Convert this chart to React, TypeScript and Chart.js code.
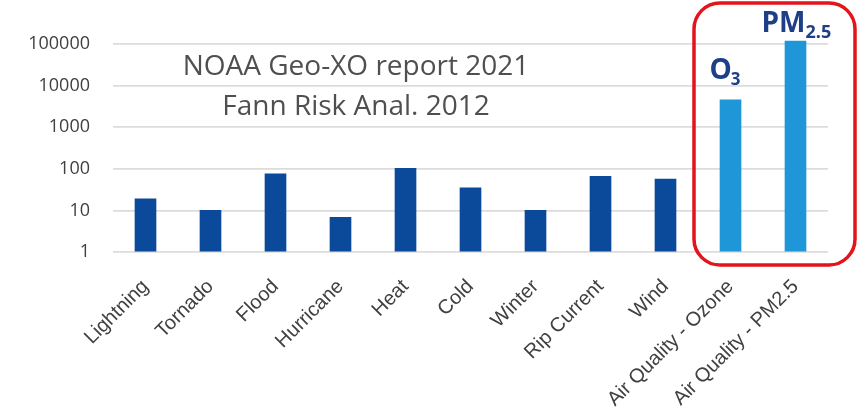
import React, { useEffect, useRef } from "react";
import { Chart, registerables } from "chart.js";

Chart.register(...registerables);

const categories = [
  "Lightning",
  "Tornado",
  "Flood",
  "Hurricane",
  "Heat",
  "Cold",
  "Winter",
  "Rip Current",
  "Wind",
  "Air Quality - Ozone",
  "Air Quality - PM2.5",
];
const values = [19, 10, 76, 6.8, 103, 35, 10, 66, 57, 4600, 118000];
const isAirQuality = [false, false, false, false, false, false, false, false, false, true, true];
const yTickValues = [1, 10, 100, 1000, 10000, 100000];
const noteLines = ["NOAA Geo-XO report 2021", "Fann Risk Anal. 2012"];

const DARK = "#0b4a9b";
const LIGHT = "#1f96d7";

const overlayPlugin = {
  id: "overlay",
  afterDraw(chart: any) {
    const ctx = chart.ctx;
    const area = chart.chartArea;
    const meta = chart.getDatasetMeta(0);
    const bars = meta.data;
    ctx.save();
    // note text
    ctx.fillStyle = "#4f4f4f";
    ctx.font = "28px 'Open Sans'";
    ctx.textAlign = "center";
    ctx.textBaseline = "alphabetic";
    const cx = area.left + 243;
    ctx.fillText(noteLines[0], cx, 75);
    ctx.fillText(noteLines[1], cx, 115);

    // red box
    const left = (bars[8].x + bars[9].x) / 2 - 4;
    const right = chart.width - 3;
    const top = 3;
    const bottom = area.bottom + 13;
    ctx.strokeStyle = "#e3141b";
    ctx.lineWidth = 3.5;
    ctx.beginPath();
    ctx.roundRect(left, top, right - left, bottom - top, 26);
    ctx.stroke();

    // O3 label
    ctx.fillStyle = "#1e3f88";
    ctx.textAlign = "left";
    const o = bars[9];
    ctx.font = "bold 28px 'Open Sans'";
    const ox = o.x - 21;
    const oy = o.y - 21;
    ctx.fillText("O", ox, oy);
    const ow = ctx.measureText("O").width;
    ctx.font = "bold 17px 'Open Sans'";
    ctx.fillText("3", ox + ow - 1, oy + 6);

    // PM2.5 label
    const p = bars[10];
    ctx.font = "bold 28px 'Open Sans'";
    const px = p.x - 34;
    const py = p.y - 9;
    ctx.fillText("PM", px, py);
    const pw = ctx.measureText("PM").width;
    ctx.font = "bold 18px 'Open Sans'";
    ctx.fillText("2.5", px + pw, py + 6);
    ctx.restore();
  },
};

export default function App() {
  const ref = useRef<HTMLCanvasElement | null>(null);
  useEffect(() => {
    if (!ref.current) return;
    const chart = new Chart(ref.current, {
      type: "bar",
      data: {
        labels: categories,
        datasets: [
          {
            data: values,
            backgroundColor: isAirQuality.map((a) => (a ? LIGHT : DARK)),
            barThickness: 21,
            base: 1,
          },
        ],
      },
      options: {
        animation: false,
        responsive: false,
        layout: { padding: { top: 29, right: 30, left: 0, bottom: 0 } },
        plugins: {
          legend: { display: false },
          tooltip: { enabled: false },
        },
        scales: {
          x: {
            grid: { display: false, drawTicks: false },
            border: { display: false },
            ticks: {
              maxRotation: 45,
              minRotation: 45,
              autoSkip: false,
              padding: 23,
              color: "#404040",
              font: { family: "'Liberation Sans', Arial, sans-serif", size: 20 },
            },
            afterFit: (s: any) => {
              s.height = 162;
            },
          },
          y: {
            type: "logarithmic",
            min: 1,
            max: Math.pow(10, 5.25),
            grid: { color: "#dcdcdc", lineWidth: 1.8, drawTicks: false },
            border: { display: false },
            afterBuildTicks: (s: any) => {
              s.ticks = yTickValues.map((v) => ({ value: v }));
            },
            afterFit: (s: any) => {
              s.width = 113;
            },
            ticks: {
              padding: 23,
              color: "#404040",
              font: { family: "'Open Sans', sans-serif", size: 18 },
              callback: (v: any) => String(v),
            },
          },
        },
      },
      plugins: [overlayPlugin],
    });
    return () => chart.destroy();
  }, []);
  return (
    <div style={{ position: "fixed", left: 0, top: 0, width: 858, height: 414, background: "#fff" }}>
      <canvas ref={ref} width={858} height={414} />
    </div>
  );
}
